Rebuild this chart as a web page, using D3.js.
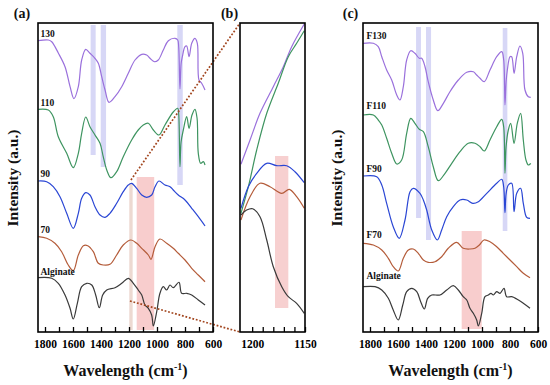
<!DOCTYPE html>
<html><head><meta charset="utf-8">
<script src="https://cdn.jsdelivr.net/npm/d3@7/dist/d3.min.js"></script>
<style>body{margin:0;background:#fff}svg{display:block}
svg text{font-family:"Liberation Serif","Times New Roman","DejaVu Serif",serif;font-weight:bold}</style>
</head><body><svg id="c" width="550" height="385"></svg>
<script>
// ---------- DATA (wavenumber cm-1, intensity a.u. with stacking offset) ----------
const a130 = [[1848,291.3],[1776,292],[1752,290.3],[1705,279],[1657,265.3],[1621,245.3],[1593,233.3],[1562,245.3],[1538,272],[1509,282.7],[1479,278.7],[1443,273.7],[1419,268.7],[1395,255.3],[1371,242],[1343,229.7],[1300,235.3],[1252,245.3],[1205,258.7],[1157,272],[1109,277.7],[1074,277],[1050,273.7],[1019,270.3],[991,272],[955,282],[919,291.3],[871,293.7],[852,292],[845,285],[836,243],[828,268],[819,275.3],[800,285.3],[788,286],[771,275.3],[752,288.7],[729,293.7],[712,288.7],[700,252],[681,248.7],[657,242]];
const a110 = [[1848,222.7],[1776,222],[1741,215.3],[1705,195.3],[1645,178.7],[1598,164.3],[1562,178.7],[1538,198.7],[1509,215],[1479,205.3],[1443,197],[1407,188.7],[1384,175.3],[1359,162],[1329,154.3],[1288,160.3],[1241,175.3],[1181,192],[1134,202],[1098,207],[1062,208.7],[1026,202],[986,197],[943,207],[884,220],[852,223.7],[845,218],[836,165.3],[828,190],[812,202],[788,215.3],[771,203.7],[750,217],[729,222.7],[714,214],[705,178.7],[688,168.7],[669,170.3],[657,167]];
const a90 = [[1848,151],[1788,150.3],[1741,145.3],[1693,135.3],[1645,118.7],[1598,103.7],[1562,118.7],[1538,133.7],[1509,139.3],[1479,137],[1443,125.3],[1407,117],[1371,114.7],[1336,118.7],[1288,128.7],[1241,140.3],[1205,147],[1181,148.7],[1145,143.7],[1109,137],[1074,134.7],[1038,137],[1014,145.3],[986,151],[943,147],[907,145.3],[884,142],[848,137],[800,132],[752,123.7],[705,115.3],[657,106]];
const a70 = [[1848,95.3],[1788,93.7],[1729,88.7],[1681,80.3],[1634,67],[1598,61.3],[1562,77],[1526,86.3],[1495,86.3],[1455,80.3],[1419,68.7],[1384,67],[1336,67.7],[1288,77],[1241,87],[1186,92],[1145,88.7],[1109,83.7],[1062,77],[1043,72.7],[1014,85.3],[979,93],[931,88.7],[884,83.7],[848,78.7],[800,72],[752,63.7],[705,57],[657,50.3]];
const aAlg = [[1848,54.3],[1752,53.7],[1705,48.7],[1657,37],[1621,23.7],[1598,13],[1569,28.7],[1538,45.3],[1502,48.7],[1466,47],[1438,37],[1412,24.3],[1388,37],[1359,42],[1300,44.3],[1252,48.7],[1205,53.7],[1169,48.7],[1134,42],[1109,37],[1086,27],[1062,23.7],[1038,17],[1026,6],[1002,20.3],[979,38.7],[955,45.3],[931,42],[907,47],[884,44.3],[843,49.7],[824,38.7],[788,38.7],[752,37],[705,32],[657,27]];

const b130 = [[1210.6,167.7],[1202,192],[1192.6,218.7],[1180,245.3],[1170.5,265.3],[1162.6,285.3],[1150.7,308]];
const b110 = [[1210.6,118.7],[1203.6,145.3],[1195.7,182],[1186.2,218.7],[1175.3,248.7],[1165.8,275.3],[1157.9,288.7],[1150.7,301.3]];
const b90 = [[1210.6,123.7],[1203.6,145.3],[1195.7,158.7],[1186.2,168.7],[1176.8,166.3],[1167.3,166.3],[1159.5,160.3],[1150.7,149.3]];
const b70 = [[1210.6,112],[1202,135.3],[1192.6,148.7],[1183.1,145.3],[1172,138.7],[1164.9,142.7],[1157.9,135.3],[1150.7,123.7]];
const bAlg = [[1210.6,117],[1205.2,122],[1199.5,123.3],[1192.6,115.3],[1186.2,92],[1180,65.3],[1172,45.3],[1165.8,35.3],[1157.9,28.7],[1150.7,18.7]];

const c130 = [[1848,288.7],[1776,288.7],[1741,285.3],[1716,275.3],[1681,262],[1645,252],[1609,237],[1586,232],[1562,245.3],[1538,272],[1509,281.3],[1479,278.7],[1448,273.7],[1431,273.7],[1407,265.3],[1384,250.3],[1348,232],[1316,221.3],[1276,228.7],[1229,240.3],[1169,252],[1109,259.7],[1062,260.3],[1038,257],[1014,253.7],[984,250.3],[943,262],[895,275.3],[859,280.3],[845,272],[836,227],[828,250],[819,262],[800,275.3],[788,275.3],[771,258.7],[752,275.3],[729,286],[709,278.7],[693,242],[669,235.3],[652,234.7]];
const c110 = [[1848,217],[1776,217],[1741,212],[1716,207],[1681,193.7],[1645,178.7],[1609,168],[1574,172],[1538,198.7],[1509,213.7],[1479,208.7],[1448,202.7],[1419,200.3],[1384,185.3],[1348,165.3],[1312,151.3],[1264,158.7],[1216,168.7],[1157,180.3],[1098,188.7],[1050,188.7],[1014,185.3],[984,181],[943,192],[895,205.3],[859,212.7],[845,205],[836,158.7],[828,185],[812,202],[795,208.7],[771,188.7],[748,208.7],[724,218.7],[705,192],[686,172],[669,167],[652,168.7]];
const c90 = [[1848,156],[1752,155.3],[1716,147],[1681,128.7],[1634,105.3],[1591,93.7],[1550,112],[1514,140.3],[1491,143.7],[1443,138.7],[1419,132],[1395,122],[1359,102],[1319,92],[1288,102],[1252,115.3],[1205,125.3],[1157,132],[1109,132],[1066,128.7],[1026,130.3],[966,138.7],[895,148.7],[859,152.7],[845,145],[836,119.3],[828,138],[812,147],[788,148.7],[771,120.3],[752,138.7],[724,143.7],[705,128.7],[681,114.7],[657,113.7]];
const c70 = [[1848,88.7],[1776,87],[1716,82],[1669,73.7],[1634,65.3],[1598,61],[1562,73.7],[1526,82],[1491,83],[1455,78.7],[1419,72],[1384,69.7],[1336,70.3],[1288,75.3],[1241,83.7],[1181,89.7],[1134,83.7],[1086,83],[1050,83.7],[1019,87],[986,92],[943,90.3],[895,85.3],[848,78.7],[800,72],[752,65.3],[705,58.7],[657,54.3]];
const cAlg = [[1848,45.3],[1764,45.3],[1716,42],[1669,33.7],[1634,22],[1598,12],[1566,27],[1538,40.3],[1502,43.7],[1466,40.3],[1438,30.3],[1412,23],[1388,33.7],[1359,37],[1300,37],[1252,42],[1205,46.3],[1169,42],[1134,35.3],[1109,32],[1086,23.7],[1062,18.7],[1038,12],[1026,6],[1002,18.7],[979,35.3],[955,37],[936,38.7],[919,37],[895,40.3],[871,38.7],[843,43.7],[824,35.3],[788,35.3],[752,33],[705,28.7],[657,23.7]];

const seriesNames = ["130","110","90","70","Alginate"];
const seriesNamesC = ["F130","F110","F90","F70","Alginate"];
const labelLevels = [295,226,155,99,57];
const labelLevelsC = [293,223,160,94,53];
const colors = ["#9a70dc","#3e9460","#2a46d4","#b45c3a","#3a3a3a"];

// shaded bands: [w0, w1, v0, v1]
const bandsA_blue = [[1474,1438,177,307],[1402,1364,165,307],[855,816,147,307]];
const bandsA_pink = [[1145,1020,2,155]];
const bandsA_beige = [[1198,1174,2,149]];
const bandsB_pink = [[1178.4,1165.8,24,176]];
const bandsC_blue = [[1471,1436,114,305],[1400,1364,92,305],[852,819,101,304]];
const bandsC_pink = [[1145,1002,3,101]];

const ticksMain = [1800,1700,1600,1500,1400,1300,1200,1100,1000,900,800,700,600];
const labelsMain = [1800,1600,1400,1200,1000,800,600];
const ticksB = [1200,1190,1180,1170,1160,1150];
const labelsB = [1200,1150];

// ---------- DRAW ----------
const svg = d3.select("#c");
const y = d3.scaleLinear().domain([0,309]).range([332,23]);
const xA = d3.scaleLinear().domain([1850,600]).range([38,213]);
const xB = d3.scaleLinear().domain([1211.5,1150]).range([240,305]);
const xC = d3.scaleLinear().domain([1850,600]).range([363,538]);

const defs = svg.append("defs");
[["clipA",xA],["clipB",xB],["clipC",xC]].forEach(([id,x])=>{
  const r = x.range();
  defs.append("clipPath").attr("id",id).append("rect")
    .attr("x",r[0]).attr("y",y(309)).attr("width",r[1]-r[0]).attr("height",y(0)-y(309));
});

function bands(g, x, list, fill, op){
  g.selectAll(null).data(list).enter().append("rect")
    .attr("x",d=>x(d[0])).attr("width",d=>x(d[1])-x(d[0]))
    .attr("y",d=>y(d[3])).attr("height",d=>y(d[2])-y(d[3]))
    .attr("fill",fill).attr("opacity",op);
}
function lines(g, x, list){
  const line = d3.line().x(d=>x(d[0])).y(d=>y(d[1])).curve(d3.curveCatmullRom.alpha(0.5));
  list.forEach((s,i)=>{
    g.append("path").attr("d",line(s)).attr("fill","none")
     .attr("stroke",colors[i]).attr("stroke-width",1.2).attr("stroke-linejoin","round");
  });
}
function axis(x, ticks, labels){
  const g = svg.append("g").attr("transform",`translate(0,${y(0)})`)
    .call(d3.axisBottom(x).tickValues(ticks).tickSize(-5).tickPadding(8)
      .tickFormat(d=>labels.includes(d)?String(d):""));
  g.select(".domain").remove();
  g.attr("font-family",null).attr("font-size",null);
  g.selectAll("line").attr("stroke","#000").attr("stroke-width",1.3);
  g.selectAll("text").style("font-size","11.5px").attr("fill","#000");
}
function frame(x){
  const r = x.range();
  svg.append("rect").attr("x",r[0]).attr("y",y(309)).attr("width",r[1]-r[0])
    .attr("height",y(0)-y(309)).attr("fill","none").attr("stroke","#000").attr("stroke-width",1.6);
}

// Panel A
const gA = svg.append("g").attr("clip-path","url(#clipA)");
bands(gA,xA,bandsA_blue,"#c9c9f3",0.75);
bands(gA,xA,bandsA_beige,"#e8cfc6",0.8);
bands(gA,xA,bandsA_pink,"#f5bcbc",0.75);
lines(gA,xA,[a130,a110,a90,a70,aAlg]);
// Panel B
const gB = svg.append("g").attr("clip-path","url(#clipB)");
bands(gB,xB,bandsB_pink,"#f5c4c4",0.8);
lines(gB,xB,[b130,b110,b90,b70,bAlg]);
// Panel C
const gC = svg.append("g").attr("clip-path","url(#clipC)");
bands(gC,xC,bandsC_blue,"#c9c9f3",0.75);
bands(gC,xC,bandsC_pink,"#f5bcbc",0.75);
lines(gC,xC,[c130,c110,c90,c70,cAlg]);

// connectors (zoom region annotation)
const connectors = [[[1186,152],[1211.5,309]],[[1193,31],[1211.5,0]]];
connectors.forEach(c=>{
  svg.append("line").attr("x1",xA(c[0][0])).attr("y1",y(c[0][1]))
    .attr("x2",xB(c[1][0])).attr("y2",y(c[1][1]))
    .attr("stroke","#a2461f").attr("stroke-width",1.7).attr("stroke-dasharray","1.8,1.8");
});

frame(xA); frame(xB); frame(xC);
axis(xA,ticksMain,labelsMain);
axis(xB,ticksB,labelsB);
axis(xC,ticksMain,labelsMain);

// series labels
seriesNames.forEach((n,i)=>{
  svg.append("text").attr("x",xA(1850)+2.5).attr("y",y(labelLevels[i])).text(n)
    .style("font-size","9.5px").attr("fill","#111");
});
seriesNamesC.forEach((n,i)=>{
  svg.append("text").attr("x",xC(1850)+3.5).attr("y",y(labelLevelsC[i])).text(n)
    .style("font-size","9.5px").attr("fill","#111");
});

// panel letters
[["(a)",22,18],["(b)",229.5,18],["(c)",350.5,18]].forEach(([t,x0,y0])=>{
  svg.append("text").attr("x",x0).attr("y",y0).attr("text-anchor","middle").text(t)
    .style("font-size","14px").attr("fill","#111");
});

// axis titles
[125.5,450.5].forEach(cx=>{
  const t = svg.append("text").attr("x",cx).attr("y",376).attr("text-anchor","middle")
    .style("font-size","16px").attr("fill","#111");
  t.append("tspan").text("Wavelength (cm");
  t.append("tspan").text("-1").style("font-size","10px").attr("dy",-6);
  t.append("tspan").text(")").attr("dy",6);
});
[18,342].forEach(bx=>{
  svg.append("text").attr("transform",`translate(${bx},178) rotate(-90)`).attr("text-anchor","middle")
    .style("font-size","15.5px").attr("fill","#111")
    .text("Intensity (a.u.)");
});
</script></body></html>
